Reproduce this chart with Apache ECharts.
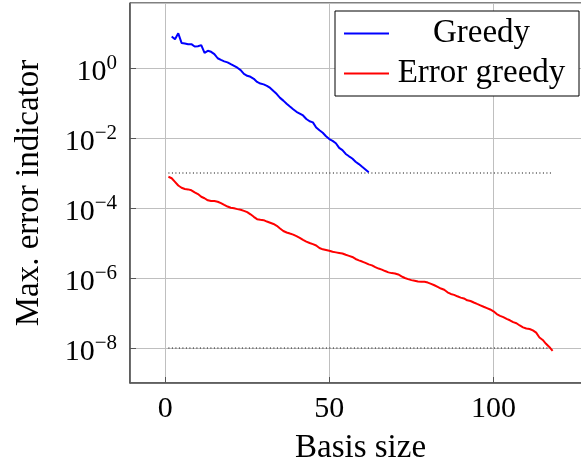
<!DOCTYPE html>
<html>
<head>
<meta charset="utf-8">
<script src="https://cdn.jsdelivr.net/npm/echarts@6/dist/echarts.min.js"></script>
<style>
  html, body { margin: 0; padding: 0; background: #fff; }
  #chart { width: 581px; height: 466px; }
</style>
</head>
<body>
<div id="chart"></div>
<script>
// Basis sizes for each run
const greedySize = [2, 3, 4, 5, 6, 7, 8, 9, 10, 11, 12, 13, 14, 15, 16, 17, 18, 19, 20, 21,
  22, 23, 24, 25, 26, 27, 28, 29, 30, 31, 32, 33, 34, 35, 36, 37, 38, 39, 40, 41,
  42, 43, 44, 45, 46, 47, 48, 49, 50, 51, 52, 53, 54, 55, 56, 57, 58, 59, 60, 61, 62];

const errorGreedySize = [1, 2, 3, 4, 5, 6, 7, 8, 9, 10, 11, 12, 13, 14, 15, 16, 17, 18, 19, 20,
  21, 22, 23, 24, 25, 26, 27, 28, 29, 30, 31, 32, 33, 34, 35, 36, 37, 38, 39, 40,
  41, 42, 43, 44, 45, 46, 47, 48, 49, 50, 51, 52, 53, 54, 55, 56, 57, 58, 59, 60,
  61, 62, 63, 64, 65, 66, 67, 68, 69, 70, 71, 72, 73, 74, 75, 76, 77, 78, 79, 80,
  81, 82, 83, 84, 85, 86, 87, 88, 89, 90, 91, 92, 93, 94, 95, 96, 97, 98, 99, 100,
  101, 102, 103, 104, 105, 106, 107, 108, 109, 110, 111, 112, 113, 114, 115, 116, 117, 118];

// Max. error indicator, greedy with true error
const greedyError = [7.9, 6.6, 9.8, 5.2, 5.0, 4.8, 4.8, 4.1, 4.2, 4.5,
  2.7, 3.1, 2.9, 2.5, 1.9, 1.7, 1.55, 1.45, 1.29, 1.15,
  1.02, 0.87, 0.68, 0.60, 0.56, 0.49, 0.40, 0.36, 0.34, 0.31,
  0.27, 0.22, 0.18, 0.14, 0.117, 0.095, 0.079, 0.066, 0.056, 0.050,
  0.044, 0.035, 0.030, 0.028, 0.020, 0.0166, 0.0141, 0.0112, 0.0093, 0.0083,
  0.0071, 0.0052, 0.0045, 0.0035, 0.0030, 0.0026, 0.0021, 0.0018, 0.0015, 0.00126,
  0.00105];

// Max. error indicator, greedy with error estimator
const errorGreedyError = [7.8e-4, 7.1e-4, 5.6e-4, 4.4e-4, 3.8e-4, 3.5e-4, 3.4e-4, 3.2e-4, 2.8e-4, 2.5e-4,
  2.1e-4, 1.9e-4, 1.66e-4, 1.58e-4, 1.58e-4, 1.51e-4, 1.38e-4, 1.23e-4, 1.10e-4, 1.02e-4,
  9.8e-5, 9.3e-5, 8.9e-5, 8.3e-5, 7.6e-5, 6.6e-5, 5.6e-5, 4.8e-5, 4.6e-5, 4.5e-5,
  4.1e-5, 3.8e-5, 3.5e-5, 3.1e-5, 2.6e-5, 2.2e-5, 2.0e-5, 1.86e-5, 1.74e-5, 1.58e-5,
  1.41e-5, 1.23e-5, 1.10e-5, 1.00e-5, 9.3e-6, 8.5e-6, 7.2e-6, 6.6e-6, 6.3e-6, 6.0e-6,
  5.6e-6, 5.4e-6, 5.2e-6, 5.0e-6, 4.6e-6, 4.3e-6, 4.0e-6, 3.5e-6, 3.2e-6, 2.95e-6,
  2.7e-6, 2.45e-6, 2.3e-6, 2.04e-6, 1.86e-6, 1.74e-6, 1.58e-6, 1.45e-6, 1.38e-6, 1.35e-6,
  1.26e-6, 1.12e-6, 1.00e-6, 9.3e-7, 8.7e-7, 8.3e-7, 7.9e-7, 7.8e-7, 7.8e-7, 7.4e-7,
  6.8e-7, 6.2e-7, 5.6e-7, 5.0e-7, 4.6e-7, 3.9e-7, 3.5e-7, 3.3e-7, 3.0e-7, 2.75e-7,
  2.6e-7, 2.3e-7, 2.2e-7, 2.0e-7, 1.82e-7, 1.66e-7, 1.51e-7, 1.38e-7, 1.26e-7, 1.12e-7,
  9.3e-8, 8.3e-8, 7.6e-8, 6.8e-8, 6.2e-8, 5.5e-8, 5.1e-8, 4.4e-8, 3.9e-8, 3.6e-8,
  3.5e-8, 3.2e-8, 2.75e-8, 2.0e-8, 1.7e-8, 1.32e-8, 1.07e-8, 8.3e-9];

// Tolerance reference lines
const toleranceSize = [1, 118];
const toleranceGreedy = [1e-3, 1e-3];
const toleranceErrorGreedy = [1e-8, 1e-8];

const seriesNames = ['Greedy', 'Error greedy'];
const FONT = "'Liberation Serif', 'DejaVu Serif', serif";

function pairs(xs, ys) { return xs.map((x, i) => [x, ys[i]]); }

function powLabel(v) {
  const e = Math.round(Math.log10(v));
  const s = e < 0 ? '\u2212' + (-e) : String(e);
  return '{b|10}{s|' + s + '}';
}

const chart = echarts.init(document.getElementById('chart'), null, { renderer: 'canvas' });

chart.setOption({
  animation: false,
  backgroundColor: '#fff',
  grid: {
    left: 130, top: 3, right: -10, bottom: 83,
    outerBoundsMode: 'none',
    containLabel: false,
    show: true, borderColor: '#000', borderWidth: 1, backgroundColor: 'transparent'
  },
  legend: {
    data: seriesNames,
    orient: 'vertical',
    right: 2, top: 11,
    backgroundColor: '#fff',
    borderColor: '#000', borderWidth: 1, borderRadius: 0,
    padding: [6, 10, 6, 9],
    icon: 'rect',
    itemWidth: 45, itemHeight: 2, itemGap: 7,
    formatter: name => '{n|' + name + '}',
    textStyle: {
      color: '#000', fontFamily: FONT, fontSize: 33,
      rich: { n: { width: 175, align: 'center', lineHeight: 32, fontFamily: FONT, fontSize: 33, color: '#000' } }
    }
  },
  xAxis: {
    type: 'value',
    min: -10.7, max: 129.7,
    splitNumber: 3,
    name: 'Basis size',
    nameLocation: 'middle',
    nameGap: 49,
    nameTextStyle: { fontFamily: FONT, fontSize: 33, color: '#000' },
    axisLine: { show: true, onZero: false, lineStyle: { color: '#555', width: 1.5 } },
    axisTick: { show: true, inside: true, length: 6, lineStyle: { color: '#555' } },
    axisLabel: {
      show: true, margin: 11, showMinLabel: false, showMaxLabel: false,
      fontFamily: FONT, fontSize: 30, color: '#000'
    },
    splitLine: { show: true, lineStyle: { color: '#bfbfbf', width: 1 } }
  },
  yAxis: {
    type: 'log',
    logBase: 100,
    min: 1e-9, max: 72,
    name: 'Max. error indicator',
    nameLocation: 'middle',
    nameGap: 84,
    nameTextStyle: { fontFamily: FONT, fontSize: 33, color: '#000' },
    axisLine: { show: true, onZero: false, lineStyle: { color: '#555', width: 1.5 } },
    axisTick: { show: true, inside: true, length: 6, lineStyle: { color: '#555' } },
    axisLabel: {
      show: true, margin: 13, showMinLabel: false, showMaxLabel: false,
      formatter: powLabel,
      rich: {
        b: { fontFamily: FONT, fontSize: 30, color: '#000', padding: [8, 0, 0, 0] },
        s: { fontFamily: FONT, fontSize: 21, color: '#000', padding: [0, 0, 10, 0] }
      }
    },
    splitLine: { show: true, lineStyle: { color: '#bfbfbf', width: 1 } }
  },
  series: [
    {
      name: 'Greedy', type: 'line', symbol: 'none',
      data: pairs(greedySize, greedyError),
      lineStyle: { color: '#0000ff', width: 2 }, itemStyle: { color: '#0000ff' }, z: 5
    },
    {
      name: 'Error greedy', type: 'line', symbol: 'none',
      data: pairs(errorGreedySize, errorGreedyError),
      lineStyle: { color: '#ff0000', width: 2 }, itemStyle: { color: '#ff0000' }, z: 5
    },
    {
      name: 'tol-greedy', type: 'line', symbol: 'none', silent: true,
      data: pairs(toleranceSize, toleranceGreedy),
      lineStyle: { color: '#000', width: 1, type: [1, 2.5] }, z: 3
    },
    {
      name: 'tol-error-greedy', type: 'line', symbol: 'none', silent: true,
      data: pairs(toleranceSize, toleranceErrorGreedy),
      lineStyle: { color: '#000', width: 1, type: [1, 2.5] }, z: 3
    }
  ]
});
</script>
</body>
</html>
